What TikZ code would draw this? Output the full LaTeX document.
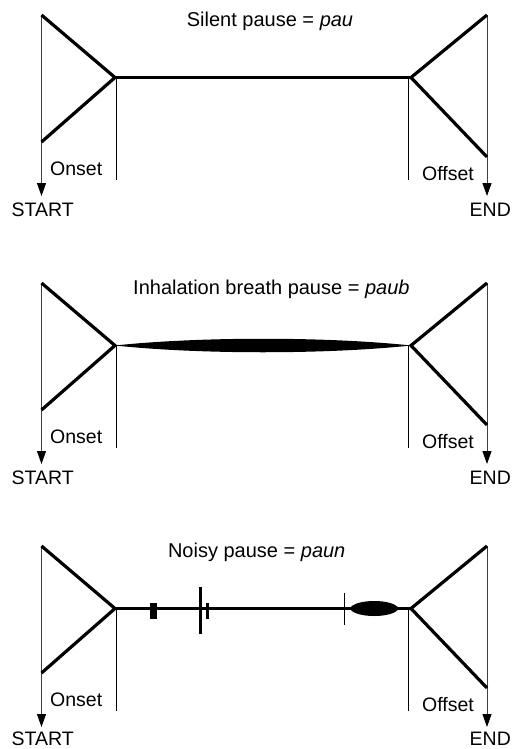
\documentclass[tikz,border=0pt]{standalone}
\usepackage{fontspec}
\setmainfont{Liberation Sans}
\usetikzlibrary{arrows.meta}
\tikzset{
  heavy/.style={line width=3.2pt, line join=miter, line cap=butt},
  thinline/.style={line width=1pt, black},
  axisline/.style={line width=1pt, black!75, -{Triangle[length=13pt,width=9pt,fill=black,color=black]}},
  lbl/.style={inner sep=0pt, anchor=base west, font=\fontsize{19.5}{20}\selectfont},
  ttl/.style={inner sep=0pt, anchor=base, font=\fontsize{20}{22}\selectfont},
}
\newcommand\pausepanel[5]{%
\begin{scope}[yshift=-#1pt]
  \coordinate (ltop#2) at (41.5,15);
  \coordinate (lbot#2) at (41.5,142);
  \coordinate (lapex#2) at (115,77.5);
  \coordinate (lend#2) at (41.5,196);
  \coordinate (ltick#2) at (116,77.5);
  \coordinate (ltickend#2) at (116,180);
  \coordinate (rtop#2) at (487,15);
  \coordinate (rbot#2) at (487,157);
  \coordinate (rapex#2) at (411,77.5);
  \coordinate (rend#2) at (487,196);
  \coordinate (rtick#2) at (408.5,77.5);
  \coordinate (rtickend#2) at (408.5,180);
  \node[ttl] (title#2) at (#4,26.7) {#3};
  \node[lbl] (onset#2) at (50,175) {Onset};
  \node[lbl] (offset#2) at (422,180) {Offset};
  \node[lbl] (start#2) at (11.5,#5) {START};
  \node[lbl] (end#2) at (469.5,#5) {END};
  \draw[axisline] (ltop#2) -- (lend#2);
  \draw[axisline] (rtop#2) -- (rend#2);
  \draw[thinline] (ltick#2) -- (ltickend#2);
  \draw[thinline] (rtick#2) -- (rtickend#2);
  \draw[heavy] (ltop#2) -- (lapex#2) -- (lbot#2);
  \draw[heavy] (rtop#2) -- (rapex#2) -- (rbot#2);
\end{scope}}
\begin{document}
\begin{tikzpicture}[x=1pt,y=-1pt]
\useasboundingbox (0,0) rectangle (511,749);
% panel 1: silent pause
\pausepanel{0}{a}{Silent pause = \textit{pau}}{270}{216}
\draw[heavy] (lapexa) -- (rapexa);
% panel 2: inhalation breath pause
\pausepanel{268}{b}{Inhalation breath pause = \textit{paub}}{271.4}{216}
\fill (lapexb) .. controls ([xshift=85pt,yshift=-9pt]lapexb) and ([xshift=-85pt,yshift=-9pt]rapexb) .. (rapexb)
  .. controls ([xshift=-85pt,yshift=9pt]rapexb) and ([xshift=85pt,yshift=9pt]lapexb) .. cycle;
\draw[line width=1pt] (lapexb) -- (rapexb);
% panel 3: noisy pause
\pausepanel{531}{c}{Noisy pause = \textit{paun}}{256.7}{214.5}
\begin{scope}[yshift=-531pt]
  \draw[heavy] (lapexc) -- (rapexc);
  \coordinate (blocka) at (150,72.3);
  \coordinate (blockb) at (156.5,88);
  \fill (blocka) rectangle (blockb);
  \coordinate (tallt) at (200.5,55.7);
  \coordinate (tallb) at (200.5,103.3);
  \draw[line width=3pt] (tallt) -- (tallb);
  \coordinate (smallt) at (207.2,72.3);
  \coordinate (smallb) at (207.2,88);
  \draw[line width=3pt] (smallt) -- (smallb);
  \coordinate (markt) at (344,62.3);
  \coordinate (markb) at (344,94);
  \draw[thinline] (markt) -- (markb);
  \coordinate (lensl) at (350,77.5);
  \coordinate (lensr) at (398.5,77.5);
  \fill (lensl) .. controls (354,67.5) and (394.5,67.5) .. (lensr)
    .. controls (394.5,87.5) and (354,87.5) .. cycle;
\end{scope}
\end{tikzpicture}
\end{document}
